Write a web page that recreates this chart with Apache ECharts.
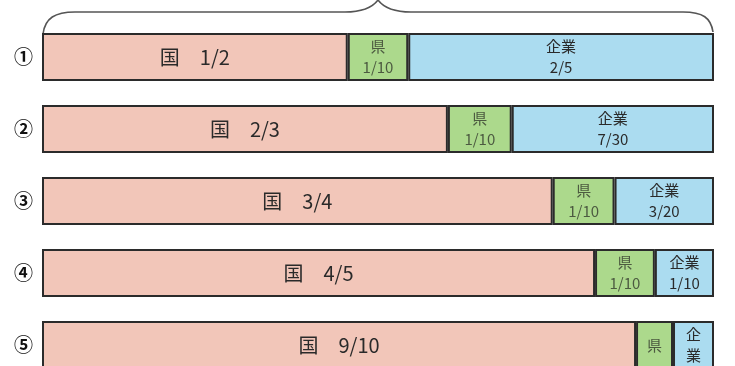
<!DOCTYPE html>
<html>
<head>
<meta charset="utf-8">
<script src="https://cdn.jsdelivr.net/npm/echarts@6/dist/echarts.min.js"></script>
<style>
html,body{margin:0;padding:0;background:#fff;overflow:hidden;width:735px;height:366px;}
#chart{width:735px;height:381px;}
</style>
</head>
<body>
<div id="chart"></div>
<script>
// Categories (rows)
const categories = ['①', '②', '③', '④', '⑤'];
// Drawn shares of each bar (percent of the full bar width)
const kuniValues = [45.5, 60.4, 76.0, 82.3, 88.4];
const kenValues = [9.0, 9.5, 9.2, 8.9, 5.5];
const kigyoValues = [45.5, 30.1, 14.8, 8.8, 6.1];
// Texts printed in the segments
const kuniLabels = ['国　1/2', '国　2/3', '国　3/4', '国　4/5', '国　9/10'];
const kenLabels = ['県\n1/10', '県\n1/10', '県\n1/10', '県\n1/10', '県'];
const kigyoLabels = ['企業\n2/5', '企業\n7/30', '企業\n3/20', '企業\n1/10', '企\n業'];

const FONT = '"Noto Sans CJK JP", "Noto Sans", sans-serif';
const chart = echarts.init(document.getElementById('chart'));

function mk(name, values, labels, color, labelStyle) {
  return {
    name: name,
    type: 'bar',
    stack: 'total',
    barWidth: 48,
    data: values,
    itemStyle: { color: color, borderColor: '#2b2b2b', borderWidth: 2 },
    label: Object.assign({
      show: true,
      position: 'inside',
      fontFamily: FONT,
      formatter: p => labels[p.dataIndex]
    }, labelStyle)
  };
}

const braceStyle = { fill: 'none', stroke: '#555', lineWidth: 1.6 };
function bez(x1, y1, c1x, c1y, c2x, c2y, x2, y2) {
  return { type: 'bezierCurve', silent: true, shape: { x1, y1, cpx1: c1x, cpy1: c1y, cpx2: c2x, cpy2: c2y, x2, y2 }, style: braceStyle };
}
function ln(x1, y1, x2, y2) {
  return { type: 'line', silent: true, shape: { x1, y1, x2, y2 }, style: braceStyle };
}

chart.setOption({
  animation: false,
  backgroundColor: '#ffffff',
  grid: { left: 42, right: 21, top: 21, bottom: 0, outerBoundsMode: 'none' },
  xAxis: { type: 'value', min: 0, max: 100, show: false },
  yAxis: {
    type: 'category',
    data: categories,
    inverse: true,
    axisLine: { show: false },
    axisTick: { show: false },
    splitLine: { show: false },
    axisLabel: { fontSize: 19, fontWeight: 'bold', color: '#111', fontFamily: FONT, margin: 9 }
  },
  series: [
    mk('国', kuniValues, kuniLabels, '#f2c6b9', { fontSize: 20, color: '#2a2a2a' }),
    mk('県', kenValues, kenLabels, '#acd98c', { fontSize: 15, color: '#4c5a40', lineHeight: 21 }),
    mk('企業', kigyoValues, kigyoLabels, '#abdcf0', { fontSize: 15, color: '#2a2a2a', lineHeight: 21 })
  ],
  graphic: [
    bez(43, 34, 45, 18, 55, 12, 75, 12),
    ln(75, 12, 345, 12),
    bez(345, 12, 362, 12, 372, 8, 378, 0),
    bez(378, 0, 384, 8, 394, 12, 411, 12),
    ln(411, 12, 683, 12),
    bez(683, 12, 703, 12, 711, 18, 713, 32)
  ]
});
</script>
</body>
</html>
